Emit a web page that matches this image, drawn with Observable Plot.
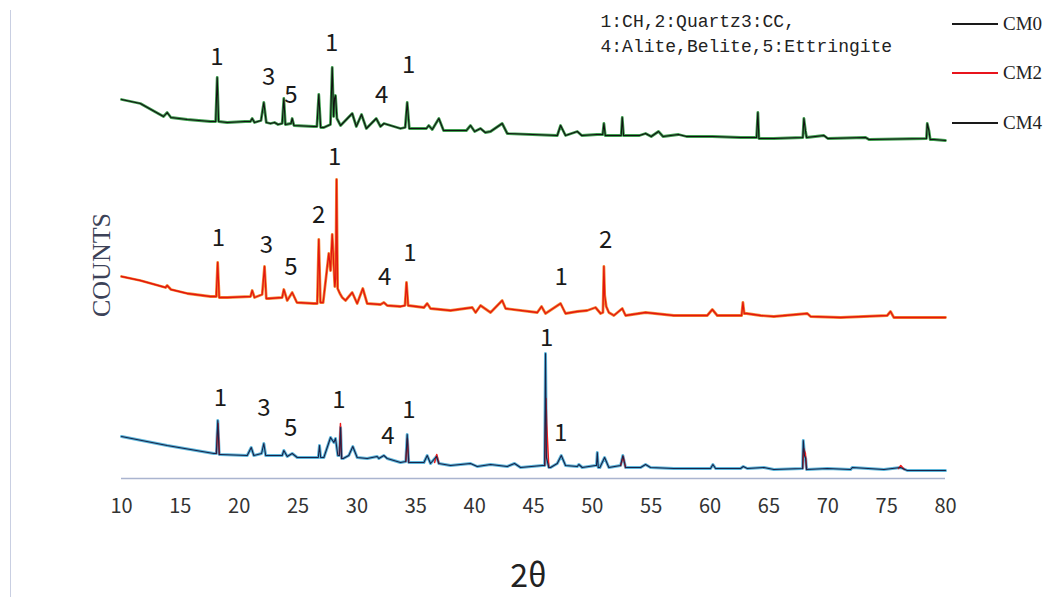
<!DOCTYPE html>
<html>
<head>
<meta charset="utf-8">
<script src="https://cdn.jsdelivr.net/npm/d3@7"></script>
<script src="https://cdn.jsdelivr.net/npm/@observablehq/plot@0.6"></script>
<style>
  body { margin: 0; background: #fff; }
  #wrap { position: relative; width: 1050px; height: 597px; overflow: hidden; background: #fff; }
  #edge { position: absolute; left: 10px; top: 10px; bottom: 0; border-left: 1.5px solid #c9cfe2; }
  #ylabel { position: absolute; left: 102px; top: 265px; transform: translate(-50%, -50%) rotate(-90deg);
            font-family: "Liberation Serif", serif; font-size: 26px; color: #3c4258; white-space: nowrap; }
  #legend { position: absolute; left: 952px; top: 0; font-family: "Liberation Serif", serif; font-size: 19px; color: #222; }
  .item { position: absolute; left: 0; height: 22px; display: flex; align-items: center; white-space: nowrap; }
  .swatch { display: inline-block; width: 46px; height: 1.5px; margin-right: 5px; }
</style>
</head>
<body>
<div id="wrap">
  <div id="edge"></div>
  <div id="chart"></div>
  <div id="ylabel">COUNTS</div>
  <div id="legend"></div>
</div>
<script>
// XRD patterns, [2θ (deg), counts]; each pattern is shifted up by its offset.
const seriesNames = ["CM0", "CM2", "CM4"];
const offsets = [330, 160, 0];

const cm0 = [
  [10.0,49],[11.6,45],[13.57,32],[13.88,36],[14.2,31],[15.58,29],[17.56,27],[18.0,27],[18.13,71],[18.25,27],
  [18.98,26],[20.5,27],[20.95,27],[21.1,30],[21.3,26],[21.85,28],[22.09,46],[22.3,26],[22.66,25],[23.0,26],
  [23.3,24],[23.65,25],[23.79,50],[23.92,24],[24.4,25],[24.5,30],[24.65,23],[26.34,22],[26.6,22],[26.76,54],
  [26.92,21],[27.19,21],[27.75,24],[27.9,81],[28.02,32],[28.1,50],[28.18,53],[28.3,30],[28.61,23],[29.6,35],
  [29.95,22],[30.39,34],[30.8,20],[31.64,30],[32.0,22],[32.3,25],[33.7,20],[34.1,21],[34.27,46],[34.45,20],
  [35.9,20],[36.1,23],[36.4,19],[36.96,30],[37.36,18],[39.3,18],[39.65,23],[40.0,17],[40.5,20],[40.9,16],
  [41.35,17],[42.34,25],[42.77,15],[47.02,13],[47.3,23],[47.72,13],[48.72,17],[49.1,13],[50.4,14],[50.88,14],
  [50.98,25],[51.1,13],[52.45,13],[52.54,31],[52.65,13],[54.0,13],[54.52,15],[55.0,12],[55.62,17],[56.0,12],
  [57.32,14],[58.0,12],[60.19,12],[62.59,11],[63.95,11],[64.06,36],[64.15,10],[65.4,10],[67.88,11],[67.97,30],
  [68.1,18],[68.2,11],[69.67,13],[70.0,10],[73.21,11],[73.5,9],[78.38,10],[78.45,25],[78.59,18],[78.7,9],
  [79.01,9],[80,8]
];

const cm2 = [
  [10.0,42],[11.6,38],[13.74,31],[13.88,33],[14.2,29],[15.6,25],[17.56,22],[18.05,22],[18.17,56],[18.3,21],
  [18.98,21],[20.96,22],[21.1,28],[21.3,21],[21.95,24],[22.15,52],[22.3,20],[22.52,20],[23.65,21],[23.79,29],
  [24.08,18],[24.5,26],[24.9,16],[26.34,15],[26.63,15],[26.76,79],[26.9,16],[27.13,16],[27.61,65],[27.76,48],
  [27.9,84],[28.12,32],[28.2,40],[28.27,139],[28.36,30],[28.55,25],[28.75,21],[29.03,18],[29.6,26],[30.02,15],
  [30.5,30],[30.87,15],[32.0,14],[32.29,16],[32.57,13],[33.7,12],[34.08,13],[34.21,36],[34.35,13],[35.69,11],
  [35.97,15],[36.25,10],[37.1,9],[37.95,8],[39.8,11],[40.08,6],[40.5,13],[41.35,6],[42.34,18],[42.63,10],
  [45.32,6],[45.68,12],[46.02,5],[47.3,15],[47.72,5],[48.72,7],[49.56,8],[50.27,11],[50.7,5],[50.9,6],
  [50.98,52],[51.05,23],[51.18,12],[51.4,6],[51.83,3],[52.54,10],[52.82,3],[54.52,6],[56.92,3],[59.76,3],
  [60.19,9],[60.61,3],[62.59,3],[62.68,3],[62.79,16],[62.9,5],[63.1,5],[64.29,3],[65.42,2],[68.26,5],
  [68.54,2],[71.09,1],[75.05,3],[75.33,7],[75.61,1],[80,1]
];

const cm4 = [
  [10.0,42],[13.88,33],[17.84,25],[18.06,25],[18.18,58],[18.3,24],[18.41,24],[20.68,23],[21.02,31],[21.24,23],
  [21.9,25],[22.09,35],[22.25,23],[22.38,23],[23.65,23],[23.79,28],[24.08,22],[24.5,25],[24.93,21],[26.63,21],
  [26.72,21],[26.82,33],[26.92,21],[27.19,21],[27.76,41],[28.04,36],[28.18,40],[28.38,23],[28.52,23],[28.61,51],
  [28.7,20],[28.84,20],[29.31,23],[29.65,32],[30.02,21],[30.87,20],[31.72,22],[31.86,20],[32.29,23],[32.57,20],
  [33.7,16],[34.15,17],[34.27,44],[34.4,16],[34.55,16],[35.69,16],[35.97,23],[36.25,15],[36.76,22],[36.96,15],
  [37.95,13],[39.65,15],[40.22,12],[41.35,14],[42.77,12],[43.39,15],[43.9,11],[45.74,13],[45.95,13],[46.02,125],
  [46.1,21],[46.3,11],[46.45,11],[47.02,15],[47.36,23],[47.72,13],[48.72,12],[48.85,14],[49.14,11],[50.27,13],
  [50.35,13],[50.42,26],[50.5,11],[50.64,11],[51.04,21],[51.4,11],[52.4,13],[52.59,23],[52.82,11],[54.1,11],
  [54.52,14],[54.94,11],[56.92,10],[60.04,10],[60.24,14],[60.47,10],[62.59,10],[62.82,12],[63.16,10],[64.57,11],
  [65.42,9],[67.83,10],[67.86,10],[67.92,38],[68.02,23],[68.12,20],[68.2,9],[69.96,10],[71.94,9],[72.08,11],
  [74.77,9],[76.18,11],[76.75,8],[80,8]
];

// second CM4 scan where it departs from the first, one list per peak
const cm4RepeatPeaks = [
  [[18.06,25],[18.2,55],[18.32,24]],
  [[28.5,23],[28.6,55],[28.7,20]],
  [[34.15,17],[34.29,40],[34.4,16]],
  [[36.6,16],[36.78,24],[36.96,15]],
  [[45.95,13],[46.06,80],[46.12,55],[46.3,11]],
  [[52.4,13],[52.62,22],[52.82,11]],
  [[67.86,10],[67.95,30],[68.1,25],[68.2,9]],
  [[76.0,10],[76.2,13],[76.5,9]]
];

// phase labels: series, 2θ, counts (shifted), text
const peakSeries = ["CM0","CM0","CM0","CM0","CM0","CM0",
  "CM2","CM2","CM2","CM2","CM2","CM2","CM2","CM2","CM2",
  "CM4","CM4","CM4","CM4","CM4","CM4","CM4","CM4"];
const peakTheta = [18.1,22.5,24.4,27.85,32.1,34.4,
  18.24,22.3,24.4,26.74,28.1,32.35,34.5,47.36,51.12,
  18.41,22.09,24.36,28.46,32.63,34.41,46.11,47.3];
const peakCounts = [421,401,383,435,383,413,
  240,233,211,263,321,201,225,201,238,
  80,70,50,78,42,68,140,45];
const peakText = ["1","3","5","1","4","1",
  "1","3","5","2","1","4","1","1","2",
  "1","3","5","1","4","1","1","1"];

const xTicks = [10,15,20,25,30,35,40,45,50,55,60,65,70,75,80];
const legendColors = ["#1a1a1a", "#e8141c", "#1a1a1a"];
const phaseNote = "1:CH,2:Quartz3:CC,\n4:Alite,Belite,5:Ettringite";

const shift = (pts, name, group = 0) => {
  const off = offsets[seriesNames.indexOf(name)];
  return pts.map(([theta, counts]) => ({series: name, group, theta, counts: counts + off}));
};
const rows0 = shift(cm0, "CM0");
const rows2 = shift(cm2, "CM2");
const rows4 = shift(cm4, "CM4");
const rows4b = cm4RepeatPeaks.flatMap((pts, i) => shift(pts, "CM4", i));
const peaks = peakText.map((t, i) => ({series: peakSeries[i], theta: peakTheta[i], counts: peakCounts[i], text: t}));

const trace = (data, stroke, strokeWidth) =>
  Plot.line(data, {x: "theta", y: "counts", z: "group", stroke, strokeWidth, strokeLinejoin: "round"});

const chart = Plot.plot({
  width: 1050,
  height: 597,
  marginLeft: 121,
  marginRight: 105,
  marginTop: 8,
  marginBottom: 119,
  style: {background: "transparent", overflow: "visible"},
  x: {domain: [10, 80]},
  y: {domain: [0, 470], axis: null},
  marks: [
    Plot.ruleY([0], {stroke: "#aab4cf", strokeWidth: 1.6}),
    Plot.axisX({ticks: xTicks, tickSize: 0, tickPadding: 20, label: null, fontSize: 20,
      fontFamily: "'Noto Sans CJK JP', 'Noto Sans', sans-serif", fill: "#333"}),
    // CM0
    trace(rows0, "#3f9e4f", 2.8),
    trace(rows0, "#111", 1.1),
    // CM2
    trace(rows2, "#f38a36", 2.8),
    trace(rows2, "#e3160f", 1.3),
    // CM4
    trace(rows4, "#5db6da", 3.0),
    trace(rows4b, "#ee1c1c", 1.5),
    trace(rows4, "#17234a", 1.1),
    Plot.text(peaks, {x: "theta", y: "counts", text: "text", fontSize: 24, fill: "#1a1a1a",
      fontFamily: "'Noto Sans CJK JP', 'Noto Sans', sans-serif"}),
    Plot.text([phaseNote], {frameAnchor: "top-left", dx: 479, dy: 0, lineAnchor: "top", textAnchor: "start",
      fontSize: 18, lineHeight: 1.42, fontFamily: "'Liberation Mono', monospace", fill: "#222"}),
    Plot.text(["2θ"], {frameAnchor: "bottom", dx: -5, dy: 108, fontSize: 32,
      fontFamily: "'Noto Sans CJK JP', 'Noto Sans', sans-serif", fill: "#222"})
  ]
});
document.getElementById("chart").appendChild(chart);

// legend on the right, one line sample per pattern
const legend = document.getElementById("legend");
const legendTops = [13, 62, 112];
seriesNames.forEach((name, i) => {
  const item = document.createElement("div");
  item.className = "item";
  item.style.top = legendTops[i] + "px";
  const sw = document.createElement("span");
  sw.className = "swatch";
  sw.style.background = legendColors[i];
  const label = document.createElement("span");
  label.textContent = name;
  item.append(sw, label);
  legend.appendChild(item);
});
</script>
</body>
</html>
